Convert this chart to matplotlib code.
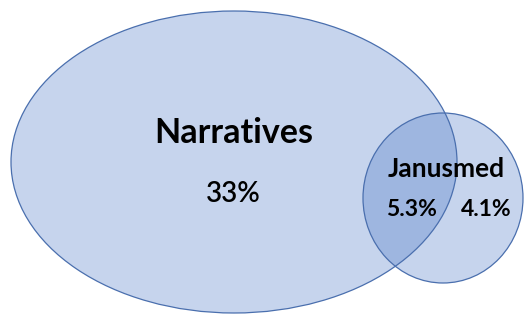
import matplotlib.pyplot as plt
from matplotlib.patches import Ellipse

# sets and their shares
set_names = ["Narratives", "Janusmed"]
only_narratives = "33%"
overlap = "5.3%"
only_janusmed = "4.1%"

fig = plt.figure(figsize=(5.32, 3.14), dpi=100)
ax = fig.add_axes([0, 0, 1, 1])
ax.set_xlim(0, 532)
ax.set_ylim(314, 0)
ax.axis("off")

blue = "#4472C4"

# big ellipse and small circle
shapes = [((234, 162), 446, 302), ((443, 198), 160, 170)]
for c, w, h in shapes:
    ax.add_patch(Ellipse(c, w, h, facecolor=blue, alpha=0.3, edgecolor="none"))
for c, w, h in shapes:
    ax.add_patch(Ellipse(c, w, h, facecolor="none", edgecolor="#4a6fae", linewidth=0.9))

font = "Lato"
ax.text(234, 133, set_names[0], ha="center", va="center", fontsize=24.5, fontweight="bold", family=font)
ax.text(233, 194, only_narratives, ha="center", va="center", fontsize=20, fontweight="semibold", family=font)
ax.text(446, 169, set_names[1], ha="center", va="center", fontsize=19, fontweight="bold", family=font)
ax.text(411, 210, overlap, ha="center", va="center", fontsize=16.5, fontweight="bold", family=font)
ax.text(486, 210, only_janusmed, ha="center", va="center", fontsize=16.5, fontweight="bold", family=font)

fig.savefig("out.png", dpi=100)
